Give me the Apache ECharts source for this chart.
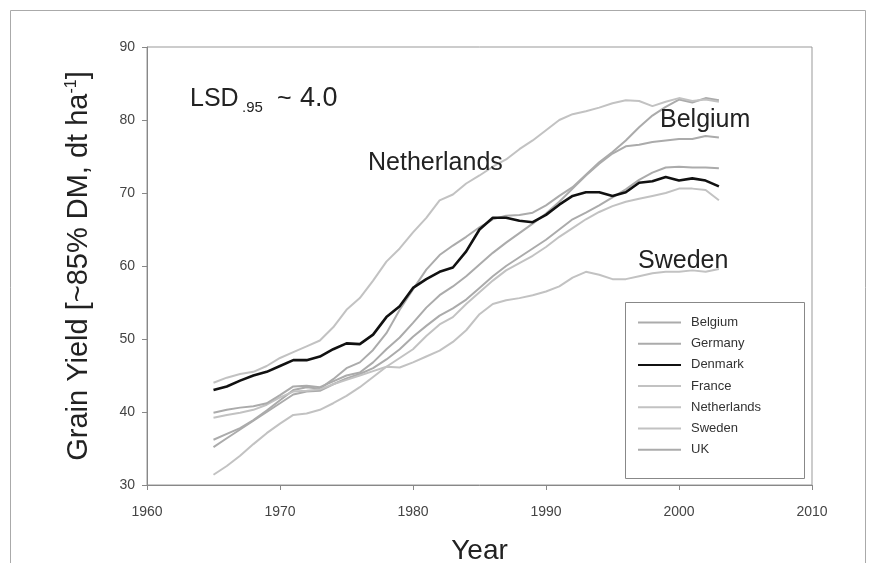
<!DOCTYPE html>
<html><head><meta charset="utf-8">
<script src="https://cdn.jsdelivr.net/npm/echarts@6/dist/echarts.min.js"></script>
<style>html,body{margin:0;padding:0;background:#fff}#c{width:875px;height:563px}</style>
</head><body><div id="c"></div>
<script>
const years = [1965,1966,1967,1968,1969,1970,1971,1972,1973,1974,1975,1976,1977,1978,1979,1980,1981,1982,1983,1984,1985,1986,1987,1988,1989,1990,1991,1992,1993,1994,1995,1996,1997,1998,1999,2000,2001,2002,2003];
const xTicks = [1960,1970,1980,1990,2000,2010];
const yTicks = [30,40,50,60,70,80,90];

const belgium = [36.2,37.0,37.8,38.9,40.2,41.6,43.0,43.4,43.2,44.5, 46.0,46.8,48.5,50.8,54.0,56.8,59.5,61.5,62.8,64.0, 65.3,66.4,66.9,67.0,67.3,68.3,69.6,70.8,72.5,74.2, 75.6,77.2,79.0,80.6,81.8,82.8,82.4,83.0,82.7];
const germany = [35.2,36.4,37.6,38.8,40.0,41.2,42.4,42.8,42.9,43.8, 44.6,45.2,46.0,47.2,48.6,50.3,51.8,53.2,54.2,55.4, 57.0,58.6,60.0,61.2,62.4,63.6,65.0,66.4,67.3,68.3, 69.4,70.5,71.8,72.8,73.5,73.6,73.5,73.5,73.4];
const denmark = [43.0,43.5,44.3,45.0,45.5,46.3,47.1,47.1,47.6,48.6, 49.4,49.3,50.6,53.0,54.5,57.0,58.2,59.2,59.8,62.0, 65.0,66.6,66.6,66.2,66.0,67.0,68.4,69.6,70.1,70.1, 69.6,70.1,71.4,71.6,72.2,71.7,72.0,71.7,70.9];
const france = [31.4,32.6,34.0,35.6,37.1,38.4,39.6,39.8,40.3,41.2, 42.2,43.4,44.8,46.2,47.4,48.6,50.4,52.0,53.0,54.8, 56.4,58.0,59.4,60.4,61.4,62.6,64.0,65.2,66.4,67.4, 68.2,68.8,69.2,69.6,70.0,70.6,70.6,70.4,69.0];
const netherlands = [44.0,44.7,45.2,45.5,46.3,47.4,48.2,49.0,49.8,51.6, 54.0,55.6,58.0,60.6,62.4,64.6,66.6,69.0,69.8,71.3, 72.4,73.6,74.6,76.0,77.2,78.6,80.0,80.8,81.2,81.7, 82.3,82.7,82.6,81.9,82.5,83.0,82.6,82.8,82.5];
const sweden = [39.2,39.6,39.9,40.3,41.0,42.0,42.8,42.9,43.1,43.8, 44.4,45.0,45.6,46.2,46.1,46.8,47.6,48.4,49.6,51.2, 53.4,54.8,55.3,55.6,56.0,56.5,57.2,58.4,59.2,58.8, 58.2,58.2,58.6,59.0,59.2,59.2,59.4,59.2,59.6];
const uk = [39.9,40.3,40.6,40.8,41.2,42.3,43.5,43.6,43.4,44.2, 45.0,45.4,46.8,48.6,50.2,52.2,54.3,56.0,57.2,58.6, 60.2,61.8,63.2,64.5,65.8,67.2,68.8,70.6,72.4,74.0, 75.4,76.4,76.6,77.0,77.2,77.4,77.4,77.8,77.6];

const countries = ['Belgium','Germany','Denmark','France','Netherlands','Sweden','UK'];
const values = [belgium, germany, denmark, france, netherlands, sweden, uk];
const colors = ['#ababab','#ababab','#111111','#c2c2c2','#c2c2c2','#c2c2c2','#ababab'];

const series = countries.map((name, i) => ({
  name: name,
  type: 'line',
  data: years.map((y, j) => [y, values[i][j]]),
  symbol: 'none',
  showSymbol: false,
  smooth: false,
  z: name === 'Denmark' ? 5 : 2,
  lineStyle: { color: colors[i], width: name === 'Denmark' ? 2.6 : 2 },
  itemStyle: { color: colors[i] }
}));

const chart = echarts.init(document.getElementById('c'));
chart.setOption({
  animation: false,
  backgroundColor: '#fff',
  grid: { left: 147, right: 63, top: 47, bottom: 78, containLabel: false, outerBoundsMode: 'none',
          show: true, borderColor: '#999', borderWidth: 1, backgroundColor: 'transparent' },
  xAxis: {
    type: 'value', min: xTicks[0], max: xTicks[xTicks.length - 1], interval: 10,
    name: 'Year', nameLocation: 'middle', nameGap: 52,
    nameTextStyle: { fontSize: 28, color: '#222', fontFamily: 'Liberation Sans, Arial' },
    axisLine: { show: true, lineStyle: { color: '#888' } },
    axisTick: { show: true, inside: false, length: 5, lineStyle: { color: '#888' } },
    axisLabel: { fontSize: 14, color: '#444', margin: 20, fontFamily: 'Liberation Sans, Arial', formatter: v => String(v) },
    splitLine: { show: false }
  },
  yAxis: {
    type: 'value', min: yTicks[0], max: yTicks[yTicks.length - 1], interval: 10,
    name: '{a|Grain Yield [~85% DM, dt ha}{b|-1}{a|]}', nameLocation: 'middle', nameGap: 54, nameRotate: 90,
    nameTextStyle: { color: '#222', fontFamily: 'Liberation Sans, Arial',
      rich: { a: { fontSize: 29, color: '#222', fontFamily: 'Liberation Sans, Arial' },
              b: { fontSize: 16, color: '#222', fontFamily: 'Liberation Sans, Arial', verticalAlign: 'top', padding: [0,0,12,0] } } },
    axisLine: { show: true, lineStyle: { color: '#888' } },
    axisTick: { show: true, inside: false, length: 5, lineStyle: { color: '#888' } },
    axisLabel: { fontSize: 14, color: '#444', margin: 12, fontFamily: 'Liberation Sans, Arial' },
    splitLine: { show: false }
  },
  legend: {
    data: countries, orient: 'vertical', left: 637, top: 316,
    itemWidth: 43, itemHeight: 14, itemGap: 8.2, padding: 0,
    itemStyle: { opacity: 0 },
    textStyle: { fontSize: 13, color: '#333', fontFamily: 'Liberation Sans, Arial', padding: [0,0,0,5] },
    selectedMode: false
  },
  graphic: [
    { type: 'rect', z: 0, silent: true, shape: { x: 10.5, y: 10.5, width: 855, height: 570 }, style: { fill: 'none', stroke: '#aaa', lineWidth: 1 } },
    { type: 'rect', z: 3, silent: true, shape: { x: 625.5, y: 302.5, width: 179, height: 176 }, style: { fill: '#fff', stroke: '#888', lineWidth: 1 } },
    { type: 'text', z: 6, style: { x: 190, y: 99, text: 'LSD', font: '25px "Liberation Sans", Arial', fill: '#222', align: 'left', verticalAlign: 'middle' } },
    { type: 'text', z: 6, style: { x: 242, y: 108, text: '.95', font: '15px "Liberation Sans", Arial', fill: '#222', align: 'left', verticalAlign: 'middle' } },
    { type: 'text', z: 6, style: { x: 277, y: 99, text: '~', font: '25px "Liberation Sans", Arial', fill: '#222', align: 'left', verticalAlign: 'middle' } },
    { type: 'text', z: 6, style: { x: 300, y: 99, text: '4.0', font: '27px "Liberation Sans", Arial', fill: '#222', align: 'left', verticalAlign: 'middle' } },
    { type: 'text', z: 6, style: { x: 368, y: 163, text: 'Netherlands', font: '25px "Liberation Sans", Arial', fill: '#222', align: 'left', verticalAlign: 'middle' } },
    { type: 'text', z: 6, style: { x: 660, y: 120, text: 'Belgium', font: '25px "Liberation Sans", Arial', fill: '#222', align: 'left', verticalAlign: 'middle' } },
    { type: 'text', z: 6, style: { x: 638, y: 261, text: 'Sweden', font: '25px "Liberation Sans", Arial', fill: '#222', align: 'left', verticalAlign: 'middle' } }
  ],
  series: series
});
</script>
</body></html>
